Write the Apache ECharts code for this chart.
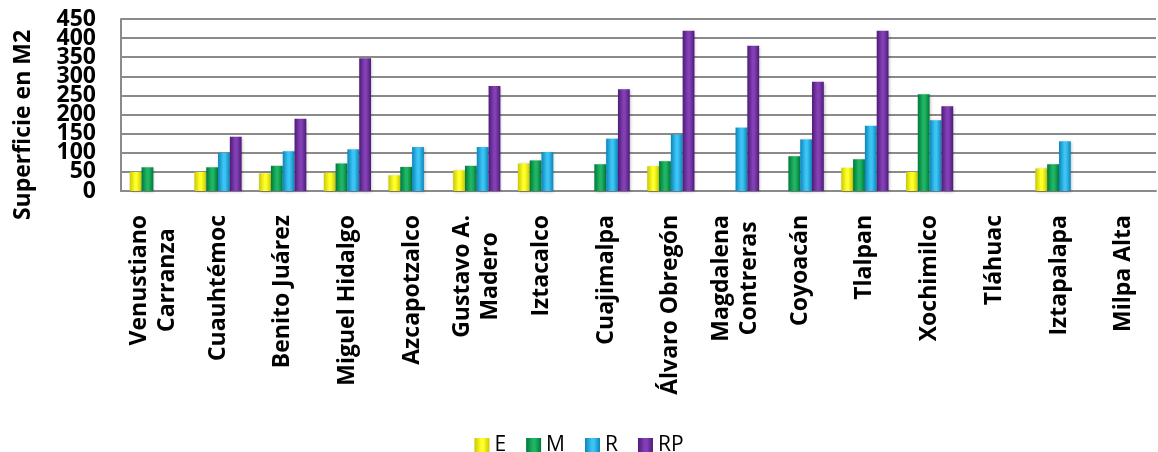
<!DOCTYPE html>
<html>
<head>
<meta charset="utf-8">
<script src="https://cdn.jsdelivr.net/npm/echarts@6/dist/echarts.min.js"></script>
<style>
  html, body { margin: 0; padding: 0; background: #fff; }
  #chart { width: 1158px; height: 452px; }
</style>
</head>
<body>
<div id="chart"></div>
<script>
// categorias (delegaciones)
var delegaciones = ['Venustiano\nCarranza', 'Cuauhtémoc', 'Benito Juárez', 'Miguel Hidalgo', 'Azcapotzalco',
  'Gustavo A.\nMadero', 'Iztacalco', 'Cuajimalpa', 'Álvaro Obregón', 'Magdalena\nContreras',
  'Coyoacán', 'Tlalpan', 'Xochimilco', 'Tláhuac', 'Iztapalapa', 'Milpa Alta'];

// valores por serie (null = sin barra)
var valoresE  = [50, 50, 46, 48, 41, 54, 72, null, 65, null, null, 61, 50, null, 59, null];
var valoresM  = [62, 62, 66, 72, 63, 66, 80, 70, 78, null, 91, 83, 253, null, 70, null];
var valoresR  = [null, 100, 104, 109, 115, 115, 102, 137, 148, 166, 135, 171, 185, null, 130, null];
var valoresRP = [null, 142, 189, 347, null, 275, null, 266, 419, 380, 286, 419, 222, null, null, null];

var yMin = 0, yMax = 450, yPaso = 50;

function barColor(edge, mid) {
  return new echarts.graphic.LinearGradient(0, 0, 1, 0, [
    { offset: 0, color: edge },
    { offset: 0.45, color: mid },
    { offset: 0.6, color: mid },
    { offset: 1, color: edge }
  ]);
}

function serie(name, data, edge, mid) {
  return {
    name: name,
    type: 'bar',
    yAxisIndex: 0,
    data: data,
    barGap: '0%',
    barCategoryGap: '27%',
    itemStyle: {
      color: barColor(edge, mid),
      shadowColor: 'rgba(0,0,0,0.25)',
      shadowBlur: 3,
      shadowOffsetX: 1,
      shadowOffsetY: 1
    }
  };
}

var etiquetaY = {
  margin: 25,
  color: '#000',
  fontSize: 23,
  fontWeight: 'bold',
  fontFamily: 'Open Sans'
};

var myChart = echarts.init(document.getElementById('chart'));
var option = {
  animation: false,
  textStyle: { fontFamily: 'Open Sans' },
  grid: { left: 121, right: 2, top: 19, bottom: 261, containLabel: false },
  legend: {
    left: 'center',
    top: 430,
    itemWidth: 15,
    itemHeight: 15,
    itemGap: 20,
    icon: 'rect',
    textStyle: { fontSize: 21, color: '#000', fontFamily: 'Open Sans' },
    data: ['E', 'M', 'R', 'RP']
  },
  graphic: [{
    type: 'text',
    x: 23,
    y: 125,
    rotation: Math.PI / 2,
    style: {
      text: 'Superficie en M2',
      font: 'bold 23px "Open Sans"',
      fill: '#000',
      align: 'center',
      verticalAlign: 'middle'
    }
  }],
  xAxis: {
    type: 'category',
    data: delegaciones,
    axisTick: { show: false },
    axisLine: { lineStyle: { color: '#8a8a8a', width: 2 } },
    axisLabel: {
      interval: 0,
      rotate: 90,
      margin: 24,
      color: '#000',
      fontSize: 23,
      fontWeight: 'bold',
      lineHeight: 28,
      fontFamily: 'Open Sans',
      // lineas centradas como en el original
      formatter: function (v) {
        return v.split('\n').map(function (s) { return '{c|' + s + '}'; }).join('\n');
      },
      rich: {
        c: { align: 'center', fontSize: 23, fontWeight: 'bold', lineHeight: 28, color: '#000', fontFamily: 'Open Sans' }
      }
    }
  },
  yAxis: [{
    // eje principal: 50..400 (los extremos van en el segundo eje, se solapan)
    type: 'value',
    position: 'left',
    min: yMin,
    max: yMax,
    interval: yPaso,
    axisLine: { show: true, lineStyle: { color: '#8a8a8a', width: 2 } },
    axisTick: { show: false },
    splitLine: { lineStyle: { color: '#8a8a8a', width: 2 } },
    axisLabel: Object.assign({ showMinLabel: false, showMaxLabel: false }, etiquetaY)
  }, {
    // solo 0 y 450
    type: 'value',
    position: 'left',
    offset: 0,
    min: yMin,
    max: yMax,
    interval: yMax - yMin,
    axisLine: { show: false },
    axisTick: { show: false },
    splitLine: { show: false },
    axisLabel: etiquetaY
  }],
  series: [
    serie('E', valoresE, '#c9c900', '#ffff2a'),
    serie('M', valoresM, '#00783a', '#1fb562'),
    serie('R', valoresR, '#0a85b8', '#3cc4f4'),
    serie('RP', valoresRP, '#4e1a78', '#8240b4')
  ]
};
myChart.setOption(option);
</script>
</body>
</html>
